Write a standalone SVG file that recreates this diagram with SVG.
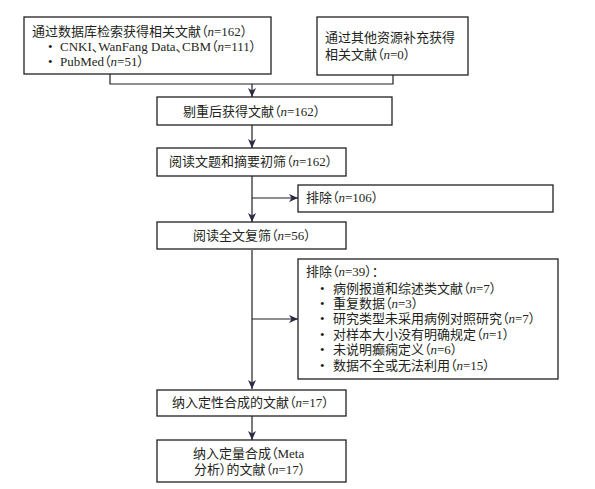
<svg xmlns="http://www.w3.org/2000/svg" width="595" height="489" viewBox="0 0 595 489">
<style>
.box{fill:#fff;stroke:#231f20;stroke-width:1.3}
.t{font-family:"Liberation Serif","Noto Sans CJK SC",serif;font-size:13px;fill:#231f20;font-feature-settings:"palt"}
.i{font-style:italic}
.ln{fill:none;stroke:#231f20;stroke-width:1.2}
</style>
<defs>
<marker id="ah" markerWidth="10" markerHeight="10" refX="9" refY="5" orient="auto" markerUnits="userSpaceOnUse">
<path d="M0,1 L9,5 L0,9 L2.5,5 Z" fill="#2a2a45"/>
</marker>
</defs>
<rect width="595" height="489" fill="#fff"/>
<g id="connectors">
<polyline class="ln" points="110,74 110,84 393,84 393,75"/>
<line class="ln" x1="252" y1="84" x2="252" y2="97" marker-end="url(#ah)"/>
<line class="ln" x1="252" y1="125" x2="252" y2="148" marker-end="url(#ah)"/>
<line class="ln" x1="252" y1="176" x2="252" y2="222" marker-end="url(#ah)"/>
<line class="ln" x1="252" y1="198" x2="298" y2="198" marker-end="url(#ah)"/>
<line class="ln" x1="252" y1="250" x2="252" y2="389" marker-end="url(#ah)"/>
<line class="ln" x1="252" y1="319" x2="298" y2="319" marker-end="url(#ah)"/>
<line class="ln" x1="252" y1="416" x2="252" y2="440" marker-end="url(#ah)"/>
</g>
<g id="n1">
<rect class="box" x="24" y="17" width="247" height="57"/>
<text class="t" x="32" y="36">通过数据库检索获得相关文献（<tspan class="i">n</tspan>=162）</text>
<text class="t" x="48" y="51">•</text>
<text class="t" x="60" y="51">CNKI、WanFang Data、CBM（<tspan class="i">n</tspan>=111）</text>
<text class="t" x="48" y="66">•</text>
<text class="t" x="60" y="66">PubMed（<tspan class="i">n</tspan>=51）</text>
</g>
<g id="n2">
<rect class="box" x="317" y="17" width="151" height="58"/>
<text class="t" x="325" y="42">通过其他资源补充获得</text>
<text class="t" x="325" y="59">相关文献（<tspan class="i">n</tspan>=0）</text>
</g>
<g id="n3">
<rect class="box" x="157" y="97" width="235" height="28"/>
<text class="t" x="183" y="116">剔重后获得文献（<tspan class="i">n</tspan>=162）</text>
</g>
<g id="n4">
<rect class="box" x="157" y="148" width="189" height="28"/>
<text class="t" x="169" y="166">阅读文题和摘要初筛（<tspan class="i">n</tspan>=162）</text>
</g>
<g id="n5">
<rect class="box" x="298" y="185" width="255" height="27"/>
<text class="t" x="306" y="202">排除（<tspan class="i">n</tspan>=106）</text>
</g>
<g id="n6">
<rect class="box" x="157" y="222" width="189" height="27"/>
<text class="t" x="193" y="240">阅读全文复筛（<tspan class="i">n</tspan>=56）</text>
</g>
<g id="n7">
<rect class="box" x="298" y="259" width="260" height="120"/>
<text class="t" x="306" y="276">排除（<tspan class="i">n</tspan>=39）：</text>
<text class="t" x="320" y="293">•</text>
<text class="t" x="333" y="293">病例报道和综述类文献（<tspan class="i">n</tspan>=7）</text>
<text class="t" x="320" y="308">•</text>
<text class="t" x="333" y="308">重复数据（<tspan class="i">n</tspan>=3）</text>
<text class="t" x="320" y="323">•</text>
<text class="t" x="333" y="323">研究类型未采用病例对照研究（<tspan class="i">n</tspan>=7）</text>
<text class="t" x="320" y="339">•</text>
<text class="t" x="333" y="339">对样本大小没有明确规定（<tspan class="i">n</tspan>=1）</text>
<text class="t" x="320" y="354">•</text>
<text class="t" x="333" y="354">未说明癫痫定义（<tspan class="i">n</tspan>=6）</text>
<text class="t" x="320" y="370">•</text>
<text class="t" x="333" y="370">数据不全或无法利用（<tspan class="i">n</tspan>=15）</text>
</g>
<g id="n8">
<rect class="box" x="157" y="390" width="189" height="26"/>
<text class="t" x="172" y="407">纳入定性合成的文献（<tspan class="i">n</tspan>=17）</text>
</g>
<g id="n9">
<rect class="box" x="157" y="440" width="189" height="42"/>
<text class="t" x="193" y="458">纳入定量合成（Meta</text>
<text class="t" x="194" y="474">分析）的文献（<tspan class="i">n</tspan>=17）</text>
</g>
</svg>
